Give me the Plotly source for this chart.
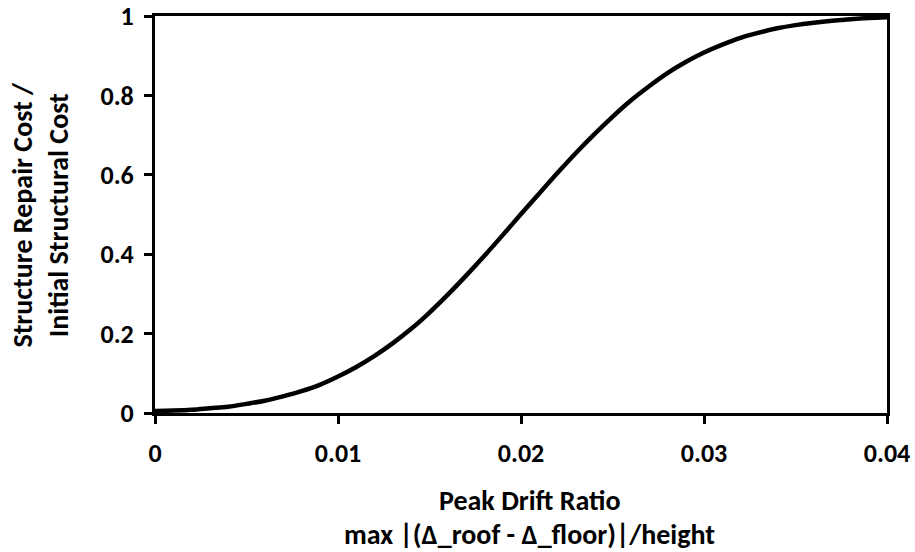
import plotly.graph_objects as go

# Peak drift ratio (x) and normalised repair cost (y)
drift = [0.000, 0.001, 0.002, 0.003, 0.004, 0.005, 0.006, 0.007, 0.008, 0.009,
         0.010, 0.011, 0.012, 0.013, 0.014, 0.015, 0.016, 0.017, 0.018, 0.019,
         0.020, 0.021, 0.022, 0.023, 0.024, 0.025, 0.026, 0.027, 0.028, 0.029,
         0.030, 0.031, 0.032, 0.033, 0.034, 0.035, 0.036, 0.037, 0.038, 0.039,
         0.040]
cost_ratio = [0.005, 0.006, 0.008, 0.012, 0.016, 0.023, 0.031, 0.042, 0.055, 0.071,
              0.092, 0.116, 0.144, 0.176, 0.212, 0.253, 0.298, 0.346, 0.396, 0.448,
              0.501, 0.553, 0.605, 0.655, 0.702, 0.746, 0.787, 0.823, 0.856, 0.884,
              0.908, 0.928, 0.945, 0.958, 0.969, 0.977, 0.983, 0.988, 0.992, 0.995,
              0.997]

x_ticks = [0, 0.01, 0.02, 0.03, 0.04]
x_tick_labels = ["0", "0.01", "0.02", "0.03", "0.04"]
y_ticks = [0, 0.2, 0.4, 0.6, 0.8, 1]
y_tick_labels = ["0", "0.2", "0.4", "0.6", "0.8", "1"]

FONT = "Carlito, Calibri, 'Open Sans', sans-serif"
TICK_SIZE = 26
TITLE_SIZE = 28

fig = go.Figure()
fig.add_trace(go.Scatter(
    x=drift, y=cost_ratio, mode="lines",
    line=dict(color="black", width=4.5, shape="spline"),
    showlegend=False, hoverinfo="skip", cliponaxis=False,
))

axis_common = dict(
    showgrid=False, zeroline=False, showline=True, linecolor="black", linewidth=3,
    mirror=True, ticks="outside", ticklen=8, tickwidth=3, tickcolor="black",
    automargin=False, ticklabeloverflow="allow",
    tickfont=dict(family=FONT, size=TICK_SIZE, color="black", weight="bold"),
)

fig.update_xaxes(range=[0, 0.04], tickvals=x_ticks, ticktext=x_tick_labels,
                 ticklabelstandoff=7, **axis_common)
fig.update_yaxes(range=[0, 1], tickvals=y_ticks, ticktext=y_tick_labels,
                 ticklabelstandoff=5, **axis_common)

title_font = dict(family=FONT, size=TITLE_SIZE, color="black", weight="bold")
fig.add_annotation(text="Peak Drift Ratio", xref="paper", yref="paper",
                   x=0.512, y=-0.22, xanchor="center", yanchor="middle",
                   showarrow=False, font=title_font)
fig.add_annotation(text="max |(Δ_roof - Δ_floor)|/height", xref="paper", yref="paper",
                   x=0.512, y=-0.305, xanchor="center", yanchor="middle",
                   showarrow=False, font=title_font)
fig.add_annotation(text="Structure Repair Cost /<br>Initial Structural Cost",
                   xref="paper", yref="paper", x=-0.157, y=0.5,
                   xanchor="center", yanchor="middle", textangle=-90,
                   showarrow=False, font=title_font)

fig.update_layout(
    width=915, height=552,
    margin=dict(l=155, r=28, t=16, b=139),
    plot_bgcolor="white", paper_bgcolor="white",
    hovermode=False,
)

fig.write_html(
    "out.html",
    config={"displayModeBar": False, "staticPlot": True},
    post_script="document.body.style.margin='0';document.body.style.overflow='hidden';",
)
